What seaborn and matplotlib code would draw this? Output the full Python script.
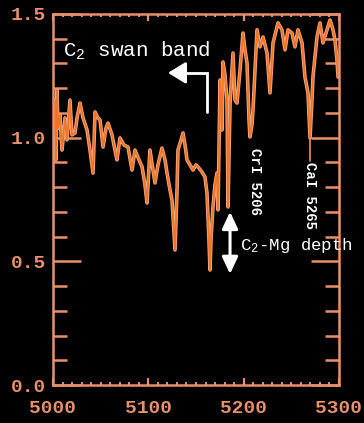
import numpy as np
import pandas as pd
import matplotlib
matplotlib.use("Agg")
import matplotlib.pyplot as plt
from matplotlib.ticker import MultipleLocator
import seaborn as sns

# ---- data ----
wavelength = [5001.0, 5002.1, 5003.1, 5004.2, 5005.2, 5007.3, 5009.4, 5010.5, 5012.6, 5014.7,
              5017.8, 5019.9, 5023.1, 5025.2, 5028.3, 5031.5, 5035.7, 5038.8, 5042.0, 5044.1,
              5047.2, 5049.3, 5052.5, 5055.6, 5057.7, 5061.9, 5065.0, 5067.1, 5070.3, 5074.5,
              5078.7, 5082.9, 5086.0, 5090.2, 5093.4, 5096.5, 5098.6, 5101.7, 5104.9, 5107.0,
              5110.1, 5114.3, 5117.5, 5119.6, 5122.7, 5124.8, 5128.0, 5130.1, 5131.1, 5134.3,
              5136.4, 5138.5, 5140.6, 5143.7, 5146.9, 5150.0, 5152.1, 5156.3, 5159.4, 5161.5,
              5163.6, 5164.7, 5165.7, 5167.8, 5169.9, 5172.0, 5173.1, 5174.1, 5175.2, 5176.2,
              5177.3, 5178.3, 5180.4, 5182.5, 5183.6, 5185.7, 5188.8, 5190.9, 5193.0, 5196.2,
              5199.3, 5201.4, 5203.5, 5205.6, 5206.6, 5208.7, 5209.8, 5214.0, 5217.1, 5220.3,
              5224.5, 5227.6, 5230.8, 5236.0, 5240.2, 5243.4, 5246.5, 5250.7, 5253.8, 5257.0,
              5261.2, 5264.3, 5267.5, 5269.6, 5271.7, 5272.7, 5276.9, 5280.1, 5283.2, 5287.4,
              5290.6, 5293.7, 5295.8, 5297.9, 5299.0]
flux = [1.031, 1.152, 0.910, 1.193, 1.039, 1.092, 0.950, 0.991, 1.080, 0.991,
        1.152, 1.011, 1.019, 1.080, 1.140, 1.080, 1.031, 0.950, 0.857, 1.104,
        1.080, 1.072, 0.962, 1.039, 1.059, 1.011, 0.950, 0.910, 0.999, 0.970,
        0.962, 0.869, 0.950, 0.910, 0.882, 0.809, 0.736, 0.950, 0.869, 0.817,
        0.890, 0.958, 0.910, 0.857, 0.789, 0.748, 0.546, 0.789, 0.950, 0.991,
        1.019, 0.970, 0.910, 0.890, 0.869, 0.890, 0.882, 0.861, 0.841, 0.776,
        0.586, 0.465, 0.586, 0.720, 0.809, 0.857, 0.708, 0.950, 1.233, 1.112,
        1.031, 1.306, 1.254, 1.152, 0.720, 1.140, 1.342, 1.152, 1.140, 1.274,
        1.423, 1.355, 1.302, 1.072, 1.003, 1.051, 1.112, 1.436, 1.367, 1.407,
        1.342, 1.181, 1.383, 1.464, 1.436, 1.355, 1.436, 1.423, 1.367, 1.436,
        1.383, 1.245, 1.181, 0.999, 1.152, 1.245, 1.407, 1.464, 1.383, 1.436,
        1.476, 1.436, 1.395, 1.314, 1.245]

x_ticks = [5000, 5100, 5200, 5300]
y_ticks = [0.0, 0.5, 1.0, 1.5]
x_tick_labels = ["5000", "5100", "5200", "5300"]
y_tick_labels = ["0.0", "0.5", "1.0", "1.5"]

band_label = r"C$_\mathregular{2}$ swan band"
depth_label = r"C$_\mathregular{2}$-Mg depth"
line_labels = ["CrI 5206", "CaI 5265"]
line_label_x = [5212, 5269.6]
line_label_y = [0.958, 0.90]

df = pd.DataFrame({"wavelength": wavelength, "flux": flux})

# ---- style ----
sns.set_style("ticks")
AX = "#E8916C"
plt.rcParams["font.family"] = ["Liberation Mono", "DejaVu Sans Mono"]
plt.rcParams["mathtext.fontset"] = "custom"
plt.rcParams["mathtext.rm"] = "Liberation Mono"
plt.rcParams["mathtext.it"] = "Liberation Mono"

fig = plt.figure(figsize=(3.64, 4.23), dpi=100, facecolor="black")
ax = fig.add_axes([53 / 364, 1 - 385 / 423, 286 / 364, 371 / 423])
ax.set_facecolor("black")

sns.lineplot(data=df, x="wavelength", y="flux", ax=ax, color="#F4A57E",
             linewidth=2.6, estimator=None, sort=False)
sns.lineplot(data=df, x="wavelength", y="flux", ax=ax, color="#F07426",
             linewidth=1.3, estimator=None, sort=False)

ax.set_xlim(5000, 5300)
ax.set_ylim(0, 1.5)
ax.set_xlabel("")
ax.set_ylabel("")

for s in ax.spines.values():
    s.set_visible(True)
    s.set_color(AX)
    s.set_linewidth(1.8)

ax.set_xticks(x_ticks)
ax.set_xticklabels(x_tick_labels, fontweight="bold")
ax.set_yticks(y_ticks)
ax.set_yticklabels(y_tick_labels, fontweight="bold")
ax.xaxis.set_minor_locator(MultipleLocator(10))
ax.yaxis.set_minor_locator(MultipleLocator(0.1))
ax.tick_params(axis="x", which="major", direction="in", length=5, width=1.6,
               color=AX, labelcolor=AX, labelsize=14, top=True, bottom=True, pad=11)
ax.tick_params(axis="x", which="minor", direction="in", length=2.5, width=1.4,
               color=AX, top=True, bottom=True)
ax.tick_params(axis="y", which="major", direction="in", length=20, width=1.8,
               color=AX, labelcolor=AX, labelsize=14, left=True, right=True, pad=5)
ax.tick_params(axis="y", which="minor", direction="in", length=10, width=1.8,
               color=AX, left=True, right=True)

# ---- annotations ----
ax.text(5010.5, 1.326, band_label, color="white", fontsize=15, va="baseline", ha="left")
ax.plot([5161.5, 5161.5, 5137.0], [1.104, 1.262, 1.262], color="white", lw=2.0,
        solid_joinstyle="miter")
ax.annotate("", xy=(5120.6, 1.262), xytext=(5137.5, 1.262),
            arrowprops=dict(arrowstyle="-|>,head_length=0.9,head_width=0.55",
                            mutation_scale=12, color="white", lw=2.0,
                            shrinkA=0, shrinkB=0))
ax.annotate("", xy=(5185.7, 0.70), xytext=(5185.7, 0.449),
            arrowprops=dict(arrowstyle="<|-|>,head_length=0.85,head_width=0.4",
                            mutation_scale=12, color="white", lw=2.2,
                            shrinkA=0, shrinkB=0))
ax.text(5196.2, 0.546, depth_label, color="white", fontsize=12.5, va="baseline", ha="left")

ax.plot([5269.6, 5269.6], [0.995, 0.905], color=AX, lw=1.2)
for lab, lx, ly in zip(line_labels, line_label_x, line_label_y):
    ax.text(lx, ly, lab, color="white", fontsize=10, rotation=-90,
            ha="center", va="top", fontweight="bold")

fig.savefig("out.png", dpi=100, facecolor="black")
